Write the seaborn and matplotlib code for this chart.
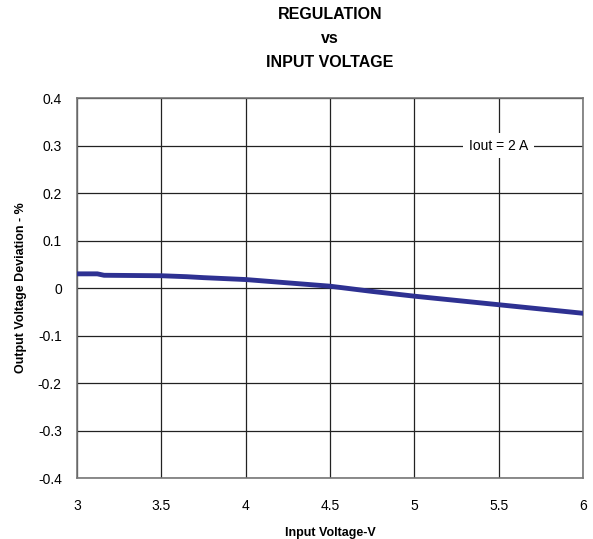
import matplotlib
matplotlib.use("Agg")
import matplotlib.pyplot as plt
import pandas as pd
import seaborn as sns

# values
input_voltage = [3.0, 3.12, 3.16, 3.5, 3.65, 3.75, 4.0, 4.25, 4.5, 4.75, 5.0, 5.25, 5.5, 5.75, 6.0]
deviation_pct = [0.030, 0.030, 0.027, 0.026, 0.024, 0.022, 0.018, 0.011, 0.004, -0.007, -0.017, -0.026, -0.035, -0.044, -0.053]

x_ticks = [3, 3.5, 4, 4.5, 5, 5.5, 6]
x_tick_labels = ["3", "3.5", "4", "4.5", "5", "5.5", "6"]
y_ticks = [-0.4, -0.3, -0.2, -0.1, 0, 0.1, 0.2, 0.3, 0.4]
y_tick_labels = ["-0.4", "-0.3", "-0.2", "-0.1", "0", "0.1", "0.2", "0.3", "0.4"]

df = pd.DataFrame({"vin": input_voltage, "dev": deviation_pct})

sns.set_style("white", {"text.color": "black", "axes.labelcolor": "black",
                        "xtick.color": "black", "ytick.color": "black"})
plt.rcParams["font.family"] = ["Liberation Sans", "DejaVu Sans"]

fig = plt.figure(figsize=(5.93, 5.39), dpi=100)
ax = fig.add_axes([0.130, 0.113, 0.853, 0.705])

sns.lineplot(data=df, x="vin", y="dev", ax=ax, color="#2E3192", linewidth=3.5, zorder=3)

ax.set_xlim(3, 6)
ax.set_ylim(-0.4, 0.4)
ax.set_xticks(x_ticks)
ax.set_xticklabels(x_tick_labels, fontsize=10)
ax.set_yticks(y_ticks)
ax.set_yticklabels(y_tick_labels, fontsize=10)
ax.tick_params(axis="both", length=0)
ax.tick_params(axis="x", pad=15)
ax.tick_params(axis="y", pad=11)
ax.grid(True, color="#222222", linewidth=0.9)
for s in ax.spines.values():
    s.set_color("#777777")
    s.set_linewidth(1.2)

ax.set_xlabel("Input Voltage-V", fontsize=9, fontweight="bold", labelpad=10)
ax.set_ylabel("Output Voltage Deviation - %", fontsize=9, fontweight="bold", labelpad=8)

ax.text(5.5, 0.3, "Iout = 2 A", fontsize=10, ha="center", va="center",
        bbox=dict(facecolor="white", edgecolor="none", pad=4), zorder=4)

fig.text(0.556, 0.929, "REGULATION\nvs\nINPUT VOLTAGE", ha="center", va="center",
         fontsize=11.5, fontweight="bold", linespacing=1.75, color="black")

fig.savefig("out.png", dpi=100)
plt.close(fig)
